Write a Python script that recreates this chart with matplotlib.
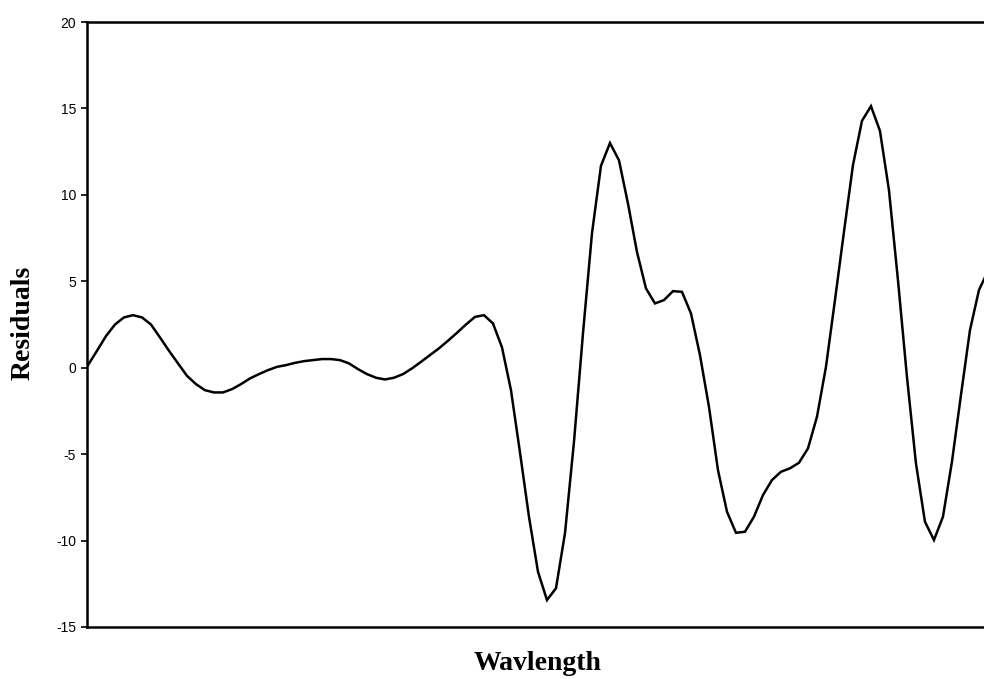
import matplotlib
matplotlib.use("Agg")
import matplotlib.pyplot as plt
import numpy as np

# Residual values (one per wavelength sample)
residuals = [
    0.15, 0.98, 1.83, 2.50, 2.91, 3.04, 2.91, 2.50, 1.75, 0.98,
    0.25, -0.47, -0.95, -1.30, -1.43, -1.43, -1.24, -0.95, -0.62, -0.37,
    -0.14, 0.05, 0.15, 0.28, 0.38, 0.44, 0.50, 0.50, 0.44, 0.25,
    -0.08, -0.37, -0.58, -0.68, -0.58, -0.37, -0.04, 0.34, 0.73, 1.12,
    1.56, 2.02, 2.50, 2.94, 3.04, 2.56, 1.18, -1.30, -4.90, -8.62,
    -11.80, -13.44, -12.76, -9.58, -4.29, 1.98, 7.77, 11.68, 13.00, 12.00,
    9.50, 6.70, 4.59, 3.72, 3.91, 4.43, 4.39, 3.14, 0.73, -2.26,
    -5.92, -8.33, -9.55, -9.49, -8.62, -7.37, -6.50, -6.02, -5.82, -5.50,
    -4.67, -2.84, 0.05, 3.91, 7.86, 11.72, 14.28, 15.13, 13.70, 10.27,
    5.07, -0.53, -5.54, -8.91, -9.97, -8.62, -5.44, -1.58, 2.17, 4.49,
    5.60,
]
wavelength_index = list(range(len(residuals)))
y_ticks = [-15, -10, -5, 0, 5, 10, 15, 20]

W, H = 984, 679
fig = plt.figure(figsize=(W / 100, H / 100), dpi=100)
left, right, top, bottom = 87, 984, 22, 627
ax = fig.add_axes([left / W, 1 - bottom / H, (right - left) / W, (bottom - top) / H])

ax.plot(wavelength_index, residuals, color="black", linewidth=1.8, solid_joinstyle="miter")

ax.set_xlim(-0.11, 99.56)
ax.set_ylim(-15, 20)
ax.set_yticks(y_ticks)
ax.set_yticklabels([str(v) for v in y_ticks], fontfamily="Liberation Sans", fontsize=10)
ax.set_xticks([])
ax.tick_params(axis="y", direction="out", length=4, width=1.2, pad=4)

for side in ["left", "bottom", "top"]:
    ax.spines[side].set_linewidth(1.8)
    ax.spines[side].set_color("black")
ax.spines["right"].set_visible(False)

fig.text(538 / W, 1 - 664 / H, "Wavlength", ha="center", va="center",
         fontfamily="Liberation Serif", fontweight="bold", fontsize=20)
fig.text(23 / W, 1 - 323 / H, "Residuals", ha="center", va="center", rotation=90,
         fontfamily="Liberation Serif", fontweight="bold", fontsize=20)

fig.savefig("out.png", dpi=100)
